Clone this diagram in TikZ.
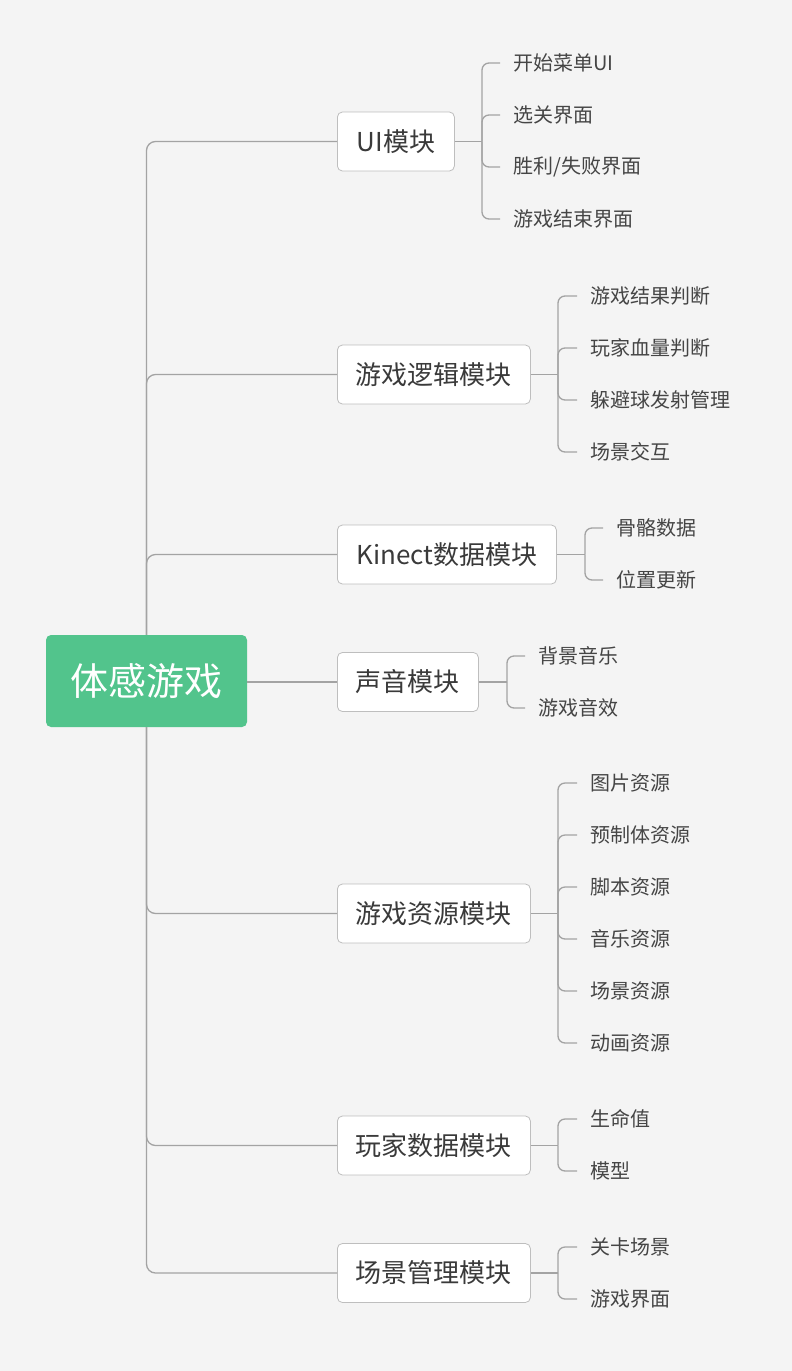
\documentclass[tikz,border=0pt]{standalone}
\usepackage{fontspec}
\setmainfont{Noto Sans CJK SC}
\definecolor{bgc}{HTML}{F4F4F4}
\definecolor{rootgreen}{HTML}{52C48C}
\definecolor{linec}{HTML}{A3A3A3}
\definecolor{boxline}{HTML}{BEBEBE}
\definecolor{txtc}{HTML}{3A3A3A}
\definecolor{leafc}{HTML}{454545}
\newcommand\mybranch[6]{%
  \coordinate (#1j) at (#3,#2);
  \draw[conn] (#1.east) -- (#1j);
  \foreach \t [count=\i] in {#6} {
    \node[leaf] (#1l\i) at (#5,{#4+52*(\i-1)}) {\t};
    \draw[conn, rounded corners=7pt] (#1j) |- (#1l\i.west);
  }%
}
\begin{document}
\begin{tikzpicture}[x=1pt,y=-1pt,
  conn/.style={draw=linec, line width=1.3pt},
  rootbox/.style={fill=rootgreen, rounded corners=5pt, text=white, font=\fontsize{38}{40}\selectfont, minimum width=201pt, minimum height=92pt, inner sep=0pt},
  modbox/.style={draw=boxline, line width=0.8pt, fill=white, rounded corners=5pt, text=txtc, font=\fontsize{26}{28}\selectfont, minimum height=59pt, inner sep=0pt, anchor=west},
  leaf/.style={anchor=west, inner xsep=13pt, inner ysep=0pt, text=leafc, font=\fontsize{20}{22}\selectfont}
]
\fill[bgc] (0,0) rectangle (792,1371);
\useasboundingbox (0,0) rectangle (792,1371);

\node[rootbox] (root) at (146.5,681) {\raisebox{-2pt}{体感游戏}};

\node[modbox, minimum width=117pt] (m1) at (337,141.5) {\raisebox{-2pt}{UI模块}};
\node[modbox, minimum width=193pt] (m2) at (337,374.5) {\raisebox{-2pt}{游戏逻辑模块}};
\node[modbox, minimum width=219pt] (m3) at (337,554.5) {\raisebox{-2pt}{Kinect数据模块}};
\node[modbox, minimum width=141pt] (m4) at (337,682) {\raisebox{-2pt}{声音模块}};
\node[modbox, minimum width=193pt] (m5) at (337,913.5) {\raisebox{-2pt}{游戏资源模块}};
\node[modbox, minimum width=193pt] (m6) at (337,1145.5) {\raisebox{-2pt}{玩家数据模块}};
\node[modbox, minimum width=193pt] (m7) at (337,1273) {\raisebox{-2pt}{场景管理模块}};

\draw[conn, rounded corners=9pt] (root.north) |- (m1.west);
\draw[conn, rounded corners=9pt] (root.north) |- (m2.west);
\draw[conn, rounded corners=9pt] (root.north) |- (m3.west);
\draw[conn] (m4.west -| root.east) -- (m4.west);
\draw[conn, rounded corners=9pt] (root.south) |- (m5.west);
\draw[conn, rounded corners=9pt] (root.south) |- (m6.west);
\draw[conn, rounded corners=9pt] (root.south) |- (m7.west);

\mybranch{m1}{141.5}{482}{63}{500}{开始菜单UI,选关界面,胜利/失败界面,游戏结束界面}
\mybranch{m2}{374.5}{558}{296}{577}{游戏结果判断,玩家血量判断,躲避球发射管理,场景交互}
\mybranch{m3}{554.5}{585}{528}{603}{骨骼数据,位置更新}
\mybranch{m4}{682}{507}{656}{525}{背景音乐,游戏音效}
\mybranch{m5}{913.5}{558}{783}{577}{图片资源,预制体资源,脚本资源,音乐资源,场景资源,动画资源}
\mybranch{m6}{1145.5}{558}{1119}{577}{生命值,模型}
\mybranch{m7}{1273}{558}{1247}{577}{关卡场景,游戏界面}
\end{tikzpicture}
\end{document}
